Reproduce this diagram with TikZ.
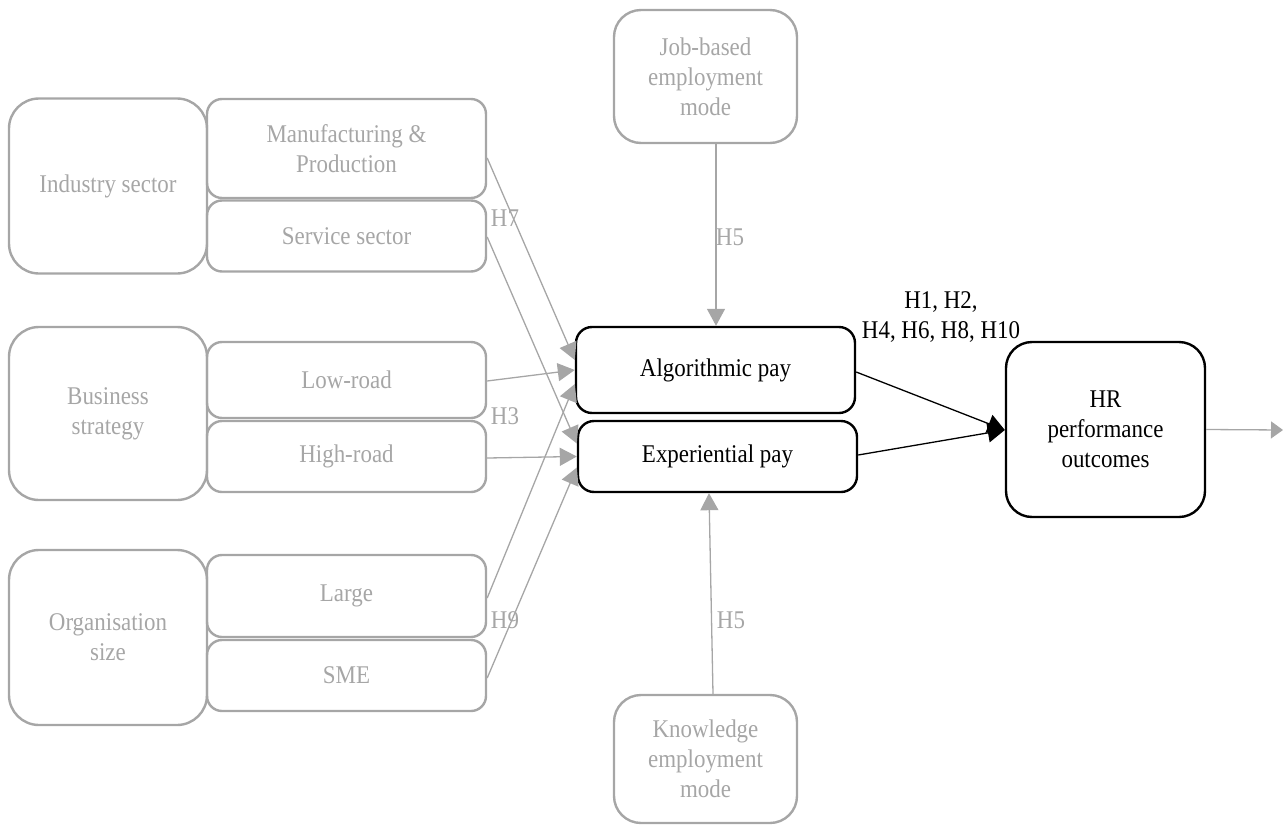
\documentclass[tikz,border=0pt]{standalone}
\usepackage{fontspec}
\setmainfont{Liberation Serif}[FakeStretch=0.9]
\usetikzlibrary{arrows.meta}
\definecolor{softgrey}{HTML}{A6A6A6}
\tikzset{
  every node/.style={font=\fontsize{25.5}{30}\selectfont, align=center, inner sep=0pt},
  greybox/.style={draw=softgrey, text=softgrey, line width=2.4pt, rounded corners=#1},
  greybox/.default=15pt,
  blackbox/.style={draw=black, text=black, line width=2.4pt, rounded corners=#1},
  blackbox/.default=16pt,
  greyarrow/.style={draw=softgrey, line width=1.3pt, -{Triangle[length=17pt,width=18pt]}},
  blackarrow/.style={draw=black, line width=1.3pt, -{Triangle[length=17pt,width=19pt]}},
  hlabel/.style={text=softgrey},
}
\begin{document}
\begin{tikzpicture}[x=1pt,y=-1pt]
\useasboundingbox (0,0) rectangle (1283,825);

% left-hand moderator groups
\node[greybox=30pt, minimum width=198pt, minimum height=175pt] (ind) at (108,186) {Industry sector};
\node[greybox, minimum width=279pt, minimum height=99pt] (manu) at (346.5,148.5) {Manufacturing \&\\Production};
\node[greybox, minimum width=279pt, minimum height=71pt] (serv) at (346.5,236) {Service sector};

\node[greybox=30pt, minimum width=198pt, minimum height=173pt] (bus) at (108,413.5) {Business\\strategy};
\node[greybox, minimum width=279pt, minimum height=76pt] (low) at (346.5,380) {Low-road};
\node[greybox, minimum width=279pt, minimum height=71pt] (high) at (346.5,456.5) {High-road};

\node[greybox=30pt, minimum width=198pt, minimum height=175pt] (org) at (108,637.5) {Organisation\\size};
\node[greybox, minimum width=279pt, minimum height=82pt] (large) at (346.5,596) {Large};
\node[greybox, minimum width=279pt, minimum height=71pt] (sme) at (346.5,675.5) {SME};

% employment modes
\node[greybox=27pt, minimum width=183pt, minimum height=133pt] (job) at (705.5,76.5) {Job-based\\employment\\mode};
\node[greybox=27pt, minimum width=183pt, minimum height=128pt] (know) at (705.5,759) {Knowledge\\employment\\mode};

% pay types and outcome
\node[blackbox, minimum width=279pt, minimum height=86pt] (alg) at (715.5,370) {Algorithmic pay};
\node[blackbox, minimum width=279pt, minimum height=71pt] (exp) at (717.5,456.5) {Experiential pay};
\node[blackbox=26pt, minimum width=199pt, minimum height=175pt] (hr) at (1105.5,429.5) {HR\\performance\\outcomes};
\coordinate (out) at (1283,430);

% moderating paths
\draw[greyarrow] ([yshift=-9.5pt]manu.east) -- ([yshift=10pt]alg.west);
\draw[greyarrow] ([yshift=-1pt]serv.east) -- ([yshift=13pt]exp.west);
\draw[greyarrow] ([yshift=-1pt]low.east) -- (alg.west);
\draw[greyarrow] ([yshift=-1.5pt]high.east) -- (exp.west);
\draw[greyarrow] ([yshift=-2pt]large.east) -- ([yshift=-14pt]alg.west);
\draw[greyarrow] ([yshift=-2.5pt]sme.east) -- ([yshift=-11pt]exp.west);

\draw[greyarrow] ([xshift=10.5pt]job.south) -- ([xshift=0.5pt]alg.north);
\draw[greyarrow] ([xshift=7.5pt]know.north) -- ([xshift=-8.5pt]exp.south);

% main effects
\draw[blackarrow] ([yshift=-2pt]alg.east) -- ([yshift=-0.5pt]hr.west);
\draw[blackarrow] ([yshift=1.5pt]exp.east) -- ([yshift=-0.5pt]hr.west);
\draw[greyarrow, -{Triangle[length=12pt,width=17pt]}] (hr.east) -- (out);

% hypothesis labels
\node[hlabel] (h7) at (505,218) {H7};
\node[hlabel] (h3) at (505,416) {H3};
\node[hlabel] (h9) at (505,620) {H9};
\node[hlabel] (h5a) at (730,237) {H5};
\node[hlabel] (h5b) at (731,620) {H5};
\node[text=black] (hmain) at (941,317) {H1, H2,\\H4, H6, H8, H10};
\end{tikzpicture}
\end{document}
